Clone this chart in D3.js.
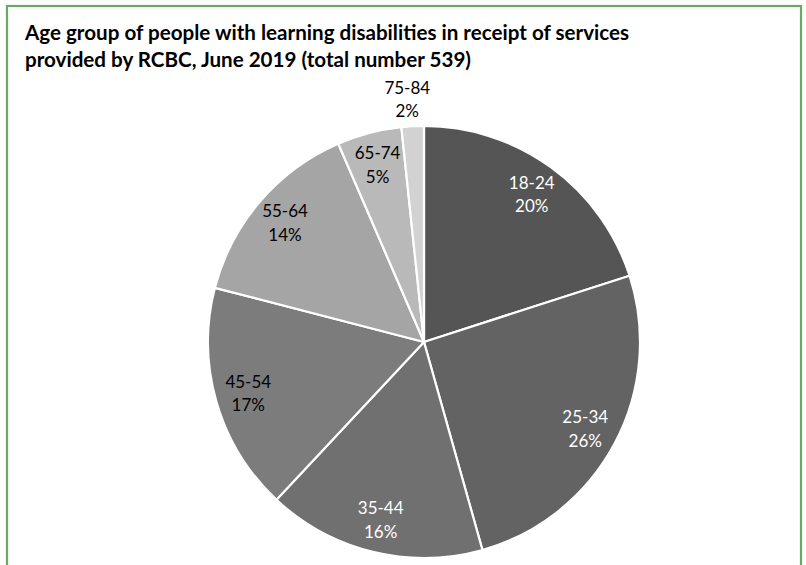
<!DOCTYPE html>
<html>
<head>
<meta charset="utf-8">
<script src="https://cdn.jsdelivr.net/npm/d3@7"></script>
<style>
  html, body { margin: 0; padding: 0; background: #ffffff; }
  svg { display: block; }
</style>
</head>
<body>
<svg id="chart" width="806" height="565"></svg>
<script>
// Age groups and number of people in each (total 539)
const ageGroups = ["18-24", "25-34", "35-44", "45-54", "55-64", "65-74", "75-84"];
const counts = [108, 138, 88, 92, 78, 26, 9];
const sliceColors = ["#555555", "#636363", "#707070", "#7c7c7c", "#a5a5a5", "#b9b9b9", "#d2d2d2"];
const labelColors = ["#ffffff", "#ffffff", "#ffffff", "#000000", "#000000", "#000000", "#000000"];
const titleLines = [
  "Age group of people with learning disabilities in receipt of services",
  "provided by RCBC, June 2019 (total number 539)"
];

const W = 806, H = 565;
const svg = d3.select("#chart");

// green frame round the chart area
svg.append("rect")
  .attr("x", 7).attr("y", 6)
  .attr("width", 794).attr("height", 620)
  .attr("fill", "#ffffff")
  .attr("stroke", "#6aa864")
  .attr("stroke-width", 2.2);

// title
const title = svg.append("text")
  .attr("font-family", "Lato, 'Open Sans', sans-serif")
  .attr("font-weight", "bold")
  .attr("font-size", 20.6)
  .attr("fill", "#000000");
titleLines.forEach((t, i) => {
  title.append("tspan").attr("x", 25).attr("y", 40 + i * 26.5).text(t);
});

const total = d3.sum(counts);
const data = ageGroups.map((g, i) => ({ group: g, value: counts[i], i }));

const cx = 424, cy = 342, radius = 216;
const pie = d3.pie().value(d => d.value).sort(null);
const arc = d3.arc().innerRadius(0).outerRadius(radius);
const labelArc = d3.arc().innerRadius(183).outerRadius(183);
const outerLabelArc = d3.arc().innerRadius(243).outerRadius(243);

const g = svg.append("g").attr("transform", `translate(${cx},${cy})`);
const arcs = pie(data);

g.selectAll("path.slice")
  .data(arcs)
  .join("path")
  .attr("class", "slice")
  .attr("d", arc)
  .attr("fill", d => sliceColors[d.data.i])
  .attr("stroke", "#ffffff")
  .attr("stroke-width", 2.2)
  .attr("stroke-linejoin", "round");

const labels = g.selectAll("text.lbl")
  .data(arcs)
  .join("text")
  .attr("class", "lbl")
  .attr("font-family", "Lato, 'Open Sans', sans-serif")
  .attr("font-size", 17)
  .attr("text-anchor", "middle")
  .attr("fill", d => labelColors[d.data.i])
  .attr("transform", d => {
    const small = (d.endAngle - d.startAngle) < 0.15;
    const [x, y] = (small ? outerLabelArc : labelArc).centroid(d);
    return `translate(${x - (small ? 4 : 0)},${y})`;
  });

labels.append("tspan").attr("x", 0).attr("y", -5.5).text(d => d.data.group);
labels.append("tspan").attr("x", 0).attr("y", 18)
  .text(d => Math.round(d.data.value / total * 100) + "%");
</script>
</body>
</html>
